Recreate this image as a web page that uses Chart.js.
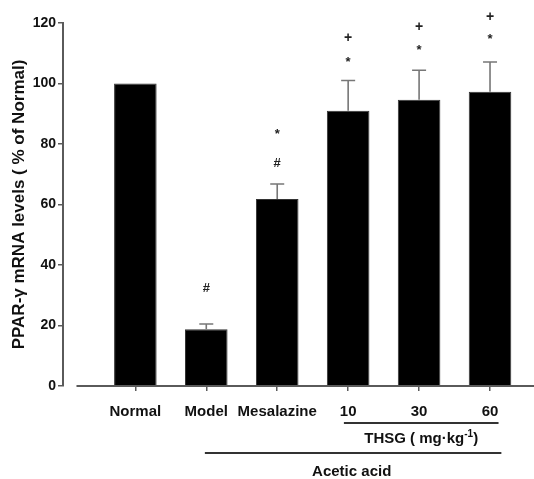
<!DOCTYPE html>
<html>
<head>
<meta charset="utf-8">
<script src="https://cdn.jsdelivr.net/npm/chart.js@4.4.1/dist/chart.umd.min.js"></script>
<style>
  html, body { margin: 0; padding: 0; background: #fff; }
  #wrap { width: 534px; height: 479px; }
</style>
</head>
<body>
<div id="wrap"><canvas id="chart"></canvas></div>
<script>
const groups = ['Normal', 'Model', 'Mesalazine', '10', '30', '60'];
const means = [100, 18.8, 61.8, 91, 94.6, 97.3];
const sems = [0, 1.7, 5, 10, 9.8, 9.8];
const hashAt = [null, 32.3, 73.7, null, null, null];
const starAt = [null, null, 84, 108, 112, 115.7];
const plusAt = [null, null, null, 115, 118.5, 122];
const yTicks = [0, 20, 40, 60, 80, 100, 120];

const FONT = '"Liberation Sans", Arial, sans-serif';
const AXIS = '#5a5a5a';

function text(ctx, str, x, y, size) {
  ctx.font = 'bold ' + size + 'px ' + FONT;
  ctx.fillText(str, x, y);
}

const extras = {
  id: 'extras',
  afterDatasetsDraw(chart) {
    const ctx = chart.ctx;
    const xs = chart.scales.x, ys = chart.scales.y;
    const meta = chart.getDatasetMeta(0);
    const bottom = chart.chartArea.bottom;
    ctx.save();

    // error bars
    ctx.strokeStyle = '#777';
    ctx.lineWidth = 1.6;
    meta.data.forEach((bar, i) => {
      if (!sems[i]) return;
      const y0 = ys.getPixelForValue(means[i]);
      const y1 = ys.getPixelForValue(means[i] + sems[i]);
      ctx.beginPath();
      ctx.moveTo(bar.x, y0);
      ctx.lineTo(bar.x, y1);
      ctx.moveTo(bar.x - 7, y1);
      ctx.lineTo(bar.x + 7, y1);
      ctx.stroke();
    });

    // significance marks
    ctx.fillStyle = '#222';
    ctx.textAlign = 'center';
    ctx.textBaseline = 'middle';
    meta.data.forEach((bar, i) => {
      if (hashAt[i] != null) text(ctx, '#', bar.x, ys.getPixelForValue(hashAt[i]), 13);
      if (starAt[i] != null) text(ctx, '*', bar.x, ys.getPixelForValue(starAt[i]) + 3, 13);
      if (plusAt[i] != null) text(ctx, '+', bar.x, ys.getPixelForValue(plusAt[i]), 14);
    });

    // x axis line (detached from y axis)
    ctx.strokeStyle = AXIS;
    ctx.lineWidth = 2;
    ctx.beginPath();
    ctx.moveTo(xs.getPixelForValue(-0.83), bottom);
    ctx.lineTo(xs.right, bottom);
    ctx.stroke();

    // group lines
    ctx.strokeStyle = '#333';
    ctx.lineWidth = 2;
    ctx.beginPath();
    ctx.moveTo(xs.getPixelForValue(2.94), bottom + 37);
    ctx.lineTo(xs.getPixelForValue(5.12), bottom + 37);
    ctx.moveTo(xs.getPixelForValue(0.98), bottom + 67);
    ctx.lineTo(xs.getPixelForValue(5.16), bottom + 67);
    ctx.stroke();

    ctx.fillStyle = '#111';
    ctx.textAlign = 'left';
    ctx.textBaseline = 'alphabetic';
    const thsg = 'THSG ( mg·kg';
    ctx.font = 'bold 15px ' + FONT;
    const w1 = ctx.measureText(thsg).width;
    ctx.font = 'bold 10px ' + FONT;
    const w2 = ctx.measureText('-1').width;
    ctx.font = 'bold 15px ' + FONT;
    const w3 = ctx.measureText(')').width;
    let tx = xs.getPixelForValue(4.03) - (w1 + w2 + w3) / 2;
    const ty = bottom + 57;
    text(ctx, thsg, tx, ty, 15);
    text(ctx, '-1', tx + w1, ty - 6, 10);
    text(ctx, ')', tx + w1 + w2, ty, 15);

    ctx.textAlign = 'center';
    text(ctx, 'Acetic acid', xs.getPixelForValue(3.05), bottom + 90, 15);
    ctx.restore();
  }
};

new Chart(document.getElementById('chart'), {
  type: 'bar',
  data: {
    datasets: [{
      data: means.map((v, i) => ({ x: i, y: v })),
      backgroundColor: '#000',
      borderColor: '#333',
      borderWidth: 1,
      barPercentage: 0.6,
      categoryPercentage: 1
    }]
  },
  options: {
    responsive: true,
    maintainAspectRatio: false,
    animation: false,
    layout: { padding: { top: 23, left: 0, right: 0, bottom: 0 } },
    plugins: { legend: { display: false }, tooltip: { enabled: false } },
    scales: {
      x: {
        type: 'linear',
        offset: false,
        min: -1.02,
        max: 5.62,
        afterBuildTicks: s => { s.ticks = groups.map((_, i) => ({ value: i })); },
        afterFit: s => { s.height = 93; },
        grid: { offset: false, drawOnChartArea: false, drawTicks: true, tickLength: 5, color: AXIS, lineWidth: 1.5 },
        border: { display: false },
        ticks: {
          autoSkip: false,
          maxRotation: 0,
          padding: 12,
          color: '#111',
          font: { family: FONT, size: 15, weight: 'bold' },
          callback: v => groups[v]
        }
      },
      y: {
        min: 0,
        max: 120,
        afterBuildTicks: s => { s.ticks = yTicks.map(v => ({ value: v })); },
        afterFit: s => { s.width = 63; },
        grid: { drawOnChartArea: false, drawTicks: true, tickLength: 5, color: AXIS, lineWidth: 1.5 },
        border: { display: true, color: AXIS, width: 2 },
        ticks: {
          padding: 2,
          color: '#111',
          font: { family: FONT, size: 14, weight: 'bold' }
        },
        title: {
          display: true,
          text: 'PPAR-γ mRNA levels ( % of Normal)',
          color: '#111',
          font: { family: FONT, size: 17, weight: 'bold' },
          padding: { top: 9, bottom: 0 }
        }
      }
    }
  },
  plugins: [extras]
});
</script>
</body>
</html>
